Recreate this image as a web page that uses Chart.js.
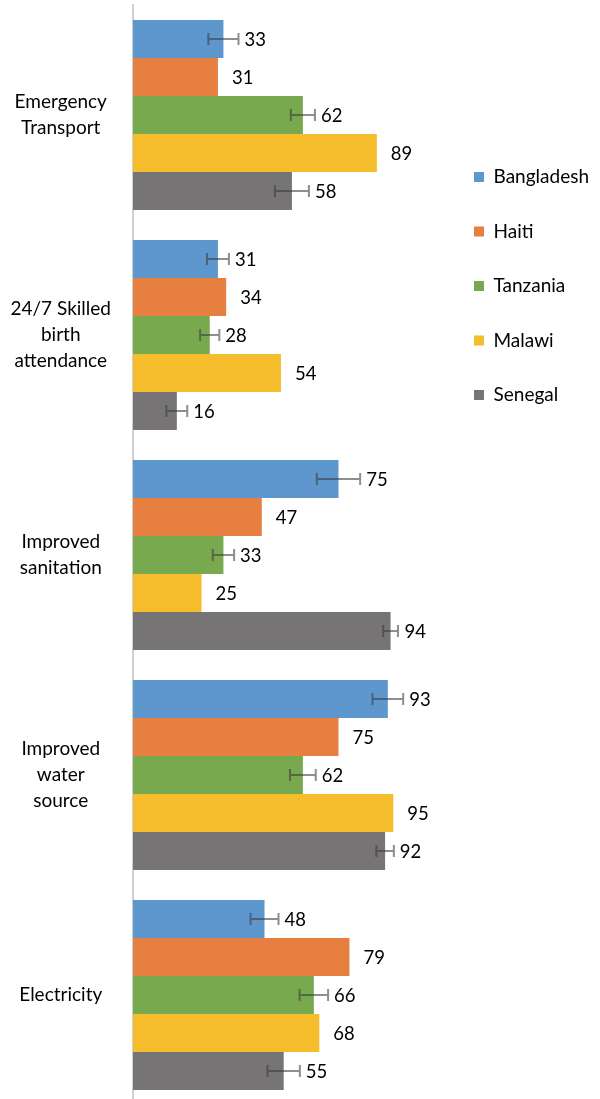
<!DOCTYPE html>
<html>
<head>
<meta charset="utf-8">
<script src="https://cdn.jsdelivr.net/npm/chart.js@4"></script>
<style>
  html, body { margin: 0; padding: 0; background: #fff; overflow: hidden; }
  #wrap { position: relative; width: 600px; height: 1105px; }
</style>
</head>
<body>
<div id="wrap"><canvas id="chart"></canvas></div>
<script>
// ── Data ───────────────────────────────────────────────────────────────────
const categories = [
  ['Emergency', 'Transport'],
  ['24/7 Skilled', 'birth', 'attendance'],
  ['Improved', 'sanitation'],
  ['Improved', 'water', 'source'],
  ['Electricity'],
];
const seriesNames = ['Bangladesh', 'Haiti', 'Tanzania', 'Malawi', 'Senegal'];

const bangladesh = [33, 31, 75, 93, 48];
const haiti      = [31, 34, 47, 75, 79];
const tanzania   = [62, 28, 33, 62, 66];
const malawi     = [89, 54, 25, 95, 68];
const senegal    = [58, 16, 94, 92, 55];

// error bar half-widths (same units); null = no error bars for that country
const bangladeshErr = [5.5, 4.0, 7.9, 5.6, 5.1];
const tanzaniaErr   = [4.4, 3.5, 3.9, 4.7, 5.2];
const senegalErr    = [6.2, 3.8, 2.7, 3.2, 5.9];

const seriesValues = [bangladesh, haiti, tanzania, malawi, senegal];
const seriesErrors = [bangladeshErr, null, tanzaniaErr, null, senegalErr];
const seriesColors = ['#5E97CD', '#E67F40', '#78A94F', '#F5BC2B', '#767474'];

const FONT = 'Lato, "Open Sans", sans-serif';

// ── Error bars + value labels ──────────────────────────────────────────────
const errorBarsAndLabels = {
  id: 'errorBarsAndLabels',
  afterDatasetsDraw(chart) {
    const { ctx, scales: { x } } = chart;
    ctx.save();
    chart.data.datasets.forEach((ds, di) => {
      const errs = seriesErrors[di];
      chart.getDatasetMeta(di).data.forEach((bar, i) => {
        const v = ds.data[i];
        const barEnd = x.getPixelForValue(v);
        let errEnd = barEnd;
        if (errs) {
          const lo = x.getPixelForValue(v - errs[i]);
          const hi = x.getPixelForValue(v + errs[i]);
          errEnd = hi;
          ctx.strokeStyle = 'rgba(60,60,60,0.58)';
          ctx.lineWidth = 2;
          ctx.beginPath();
          ctx.moveTo(lo, bar.y); ctx.lineTo(hi, bar.y);
          ctx.moveTo(lo, bar.y - 6); ctx.lineTo(lo, bar.y + 6);
          ctx.moveTo(hi, bar.y - 6); ctx.lineTo(hi, bar.y + 6);
          ctx.stroke();
        }
        ctx.fillStyle = '#000';
        ctx.font = '18.5px ' + FONT;
        ctx.textAlign = 'left';
        ctx.textBaseline = 'middle';
        ctx.fillText(String(v), Math.max(barEnd + 14, errEnd + 6), bar.y + 1);
      });
    });
    ctx.restore();
  }
};

// ── Chart ──────────────────────────────────────────────────────────────────
new Chart(document.getElementById('chart'), {
  type: 'bar',
  data: {
    labels: categories,
    datasets: seriesNames.map((name, i) => ({
      label: name,
      data: seriesValues[i],
      backgroundColor: seriesColors[i],
      borderWidth: 0,
      barPercentage: 1,
      categoryPercentage: 0.864,
    })),
  },
  options: {
    indexAxis: 'y',
    responsive: true,
    maintainAspectRatio: false,
    animation: false,
    layout: { padding: { top: 5, right: 1, bottom: 0, left: 0 } },
    scales: {
      x: {
        display: false,
        min: 0,
        max: 111.5,
      },
      y: {
        grid: { display: false, drawTicks: false },
        border: { display: true, color: '#d0d0d0', width: 2 },
        ticks: {
          color: '#000',
          crossAlign: 'center',
          padding: 22,
          font: { family: FONT, size: 19, lineHeight: 1.38 },
        },
        afterFit(scale) {
          scale.width = 133;
          scale.paddingTop = 0;
          scale.paddingBottom = 0;
        },
      },
    },
    plugins: {
      tooltip: { enabled: false },
      legend: {
        position: 'right',
        align: 'start',
        maxWidth: 220,
        title: { display: true, text: '', font: { size: 10, lineHeight: 1 }, padding: { top: 117, bottom: 0 } },
        labels: {
          boxWidth: 10,
          boxHeight: 10,
          padding: 35.5,
          color: '#000',
          font: { family: FONT, size: 19 },
        },
      },
    },
  },
  plugins: [errorBarsAndLabels],
});
</script>
</body>
</html>
